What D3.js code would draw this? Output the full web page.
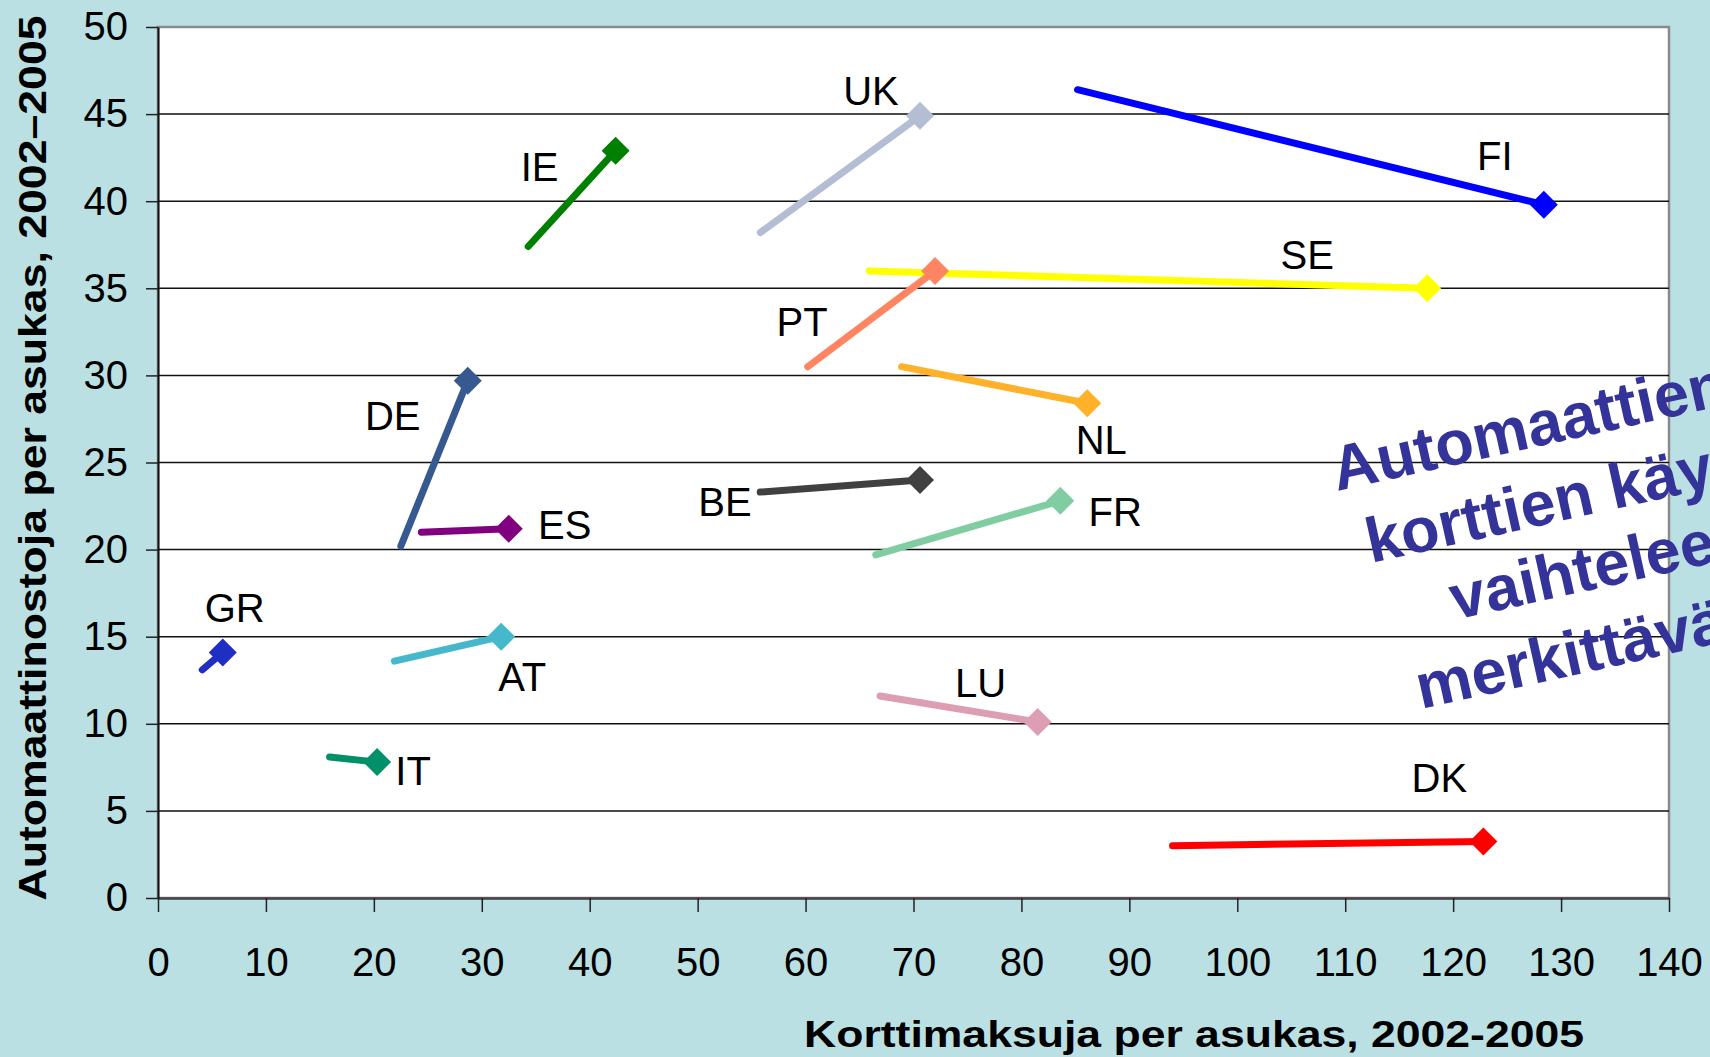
<!DOCTYPE html>
<html>
<head>
<meta charset="utf-8">
<script src="https://cdn.jsdelivr.net/npm/d3@7"></script>
<style>
  html, body { margin: 0; padding: 0; background: #bbe0e3; overflow: hidden; }
  text { font-family: "Liberation Sans", Arial, sans-serif; }
</style>
</head>
<body>
<script>
"use strict";
(function () {

// country codes, card payments (x) and ATM withdrawals (y) per inhabitant, 2002 -> 2005
const countries = ["FI", "SE", "UK", "IE", "PT", "NL", "DE", "ES", "BE", "FR", "GR", "AT", "IT", "LU", "DK"]
const x2002 = [85.2, 65.9, 55.8, 34.3, 60.2, 68.9, 22.5, 24.4, 55.8, 66.5, 4.1, 21.9, 15.9, 66.9, 94.0]
const y2002 = [46.4, 36.0, 38.2, 37.4, 30.5, 30.5, 20.2, 21.0, 23.3, 19.7, 13.1, 13.6, 8.1, 11.6, 3.0]
const x2005 = [128.4, 117.6, 70.6, 42.4, 72.0, 86.1, 28.7, 32.5, 70.6, 83.6, 6.0, 31.8, 20.3, 81.5, 122.8]
const y2005 = [39.8, 35.0, 44.9, 42.9, 36.0, 28.4, 29.7, 21.2, 24.0, 22.8, 14.1, 15.0, 7.8, 10.1, 3.25]

const xTicks = [0, 10, 20, 30, 40, 50, 60, 70, 80, 90, 100, 110, 120, 130, 140]
const yTicks = [0, 5, 10, 15, 20, 25, 30, 35, 40, 45, 50]

const xTitle = "Korttimaksuja per asukas, 2002-2005"
const yTitle = "Automaattinostoja per asukas, 2002\u20132005"
const noteLines = ["Automaattien ja", "korttien käyttö", "vaihtelee", "merkittävästi"]

// styling, kept apart from the data
const colors = {
    FI: "#0000ff", SE: "#ffff00", UK: "#b3bdd4", IE: "#008000", PT: "#ff8562",
    NL: "#ffb12a", DE: "#365a8f", ES: "#800080", BE: "#404040", FR: "#80cda2",
    GR: "#1f2fc4", AT: "#45b8cc", IT: "#00906a", LU: "#dd9db5", DK: "#ff0000"
}
// label offset from the 2005 marker, in pixels
const labelOffset = {
    FI: [-49, -49], SE: [-120, -34], UK: [-49, -25], IE: [-76, 16], PT: [-133, 51],
    NL: [14, 36], DE: [-75, 35], ES: [56, -4], BE: [-195, 22], FR: [55, 11],
    GR: [12, -45], AT: [21, 40], IT: [36, 8], LU: [-57, -39], DK: [-44, -64]
}

const m = { width: 1710, height: 1057, left: 158, right: 1669, top: 27, bottom: 898 }

const svg = d3.select("body").append("svg")
    .attr("width", m.width)
    .attr("height", m.height)

svg.append("rect")
    .attr("width", m.width).attr("height", m.height)
    .attr("fill", "#bbe0e3")

const x = d3.scaleLinear().domain([0, 140]).range([m.left, m.right])
const y = d3.scaleLinear().domain([0, 50]).range([m.bottom, m.top])

// plot area
svg.append("rect")
    .attr("x", m.left).attr("y", m.top)
    .attr("width", m.right - m.left).attr("height", m.bottom - m.top)
    .attr("fill", "#fff")
    .attr("stroke", "#8a8a8a")
    .attr("stroke-width", 2.5)

// gridlines
svg.append("g")
    .selectAll("line")
    .data(yTicks.filter(d => d > 0 && d < 50))
    .enter()
    .append("line")
    .attr("x1", m.left).attr("x2", m.right)
    .attr("y1", d => y(d)).attr("y2", d => y(d))
    .attr("stroke", "#111")
    .attr("stroke-width", 1.5)

// axes
const xAxis = svg.append("g")
    .attr("transform", `translate(0,${m.bottom})`)
    .call(d3.axisBottom(x).tickValues(xTicks).tickSize(14).tickPadding(36).tickSizeOuter(0))
xAxis.select(".domain").attr("stroke", "#444").attr("stroke-width", 2.5)
xAxis.selectAll(".tick line").attr("stroke", "#222").attr("stroke-width", 1.5)
xAxis.selectAll("text").attr("font-size", 40).attr("fill", "#000")

const yAxis = svg.append("g")
    .attr("transform", `translate(${m.left},0)`)
    .call(d3.axisLeft(y).tickValues(yTicks).tickSize(12).tickPadding(18).tickSizeOuter(0))
yAxis.select(".domain").attr("stroke", "#111").attr("stroke-width", 2)
yAxis.selectAll(".tick line").attr("stroke", "#222").attr("stroke-width", 1.5)
yAxis.selectAll("text").attr("font-size", 40).attr("fill", "#000")

// axis titles
svg.append("text")
    .attr("x", 1194).attr("y", 1047)
    .attr("text-anchor", "middle")
    .attr("font-size", 37)
    .attr("font-weight", "bold")
    .attr("textLength", 780)
    .attr("lengthAdjust", "spacingAndGlyphs")
    .text(xTitle)

svg.append("text")
    .attr("transform", "translate(46,458) rotate(-90)")
    .attr("text-anchor", "middle")
    .attr("font-size", 38)
    .attr("font-weight", "bold")
    .attr("textLength", 885)
    .attr("lengthAdjust", "spacingAndGlyphs")
    .text(yTitle)

// country segments
const rows = countries.map((c, i) => ({
    c: c, x0: x2002[i], y0: y2002[i], x1: x2005[i], y1: y2005[i]
}))

const g = svg.append("g")

g.selectAll(".seg")
    .data(rows)
    .enter()
    .append("line")
    .attr("class", "seg")
    .attr("x1", d => x(d.x0)).attr("y1", d => y(d.y0))
    .attr("x2", d => x(d.x1)).attr("y2", d => y(d.y1))
    .attr("stroke", d => colors[d.c])
    .attr("stroke-width", 7)
    .attr("stroke-linecap", "round")

g.selectAll(".mark")
    .data(rows)
    .enter()
    .append("path")
    .attr("class", "mark")
    .attr("d", "M0,-14L14,0L0,14L-14,0Z")
    .attr("transform", d => `translate(${x(d.x1)},${y(d.y1)})`)
    .attr("fill", d => colors[d.c])

g.selectAll(".lbl")
    .data(rows)
    .enter()
    .append("text")
    .attr("class", "lbl")
    .attr("x", d => x(d.x1) + labelOffset[d.c][0])
    .attr("y", d => y(d.y1) + labelOffset[d.c][1])
    .attr("dy", "0.36em")
    .attr("text-anchor", "middle")
    .attr("font-size", 40)
    .attr("fill", "#000")
    .text(d => d.c)

// rotated note on the right, cut by the page edge as in the original
const noteStart = [[1337, 491], [1371, 563], [1455, 620], [1421, 709]]
svg.append("g")
    .selectAll("text")
    .data(noteLines)
    .enter()
    .append("text")
    .attr("transform", (d, i) => `translate(${noteStart[i][0]},${noteStart[i][1]}) rotate(-12.5)`)
    .attr("font-size", 63)
    .attr("font-weight", "bold")
    .attr("fill", "#333399")
    .text(d => d)

})();
</script>
</body>
</html>
